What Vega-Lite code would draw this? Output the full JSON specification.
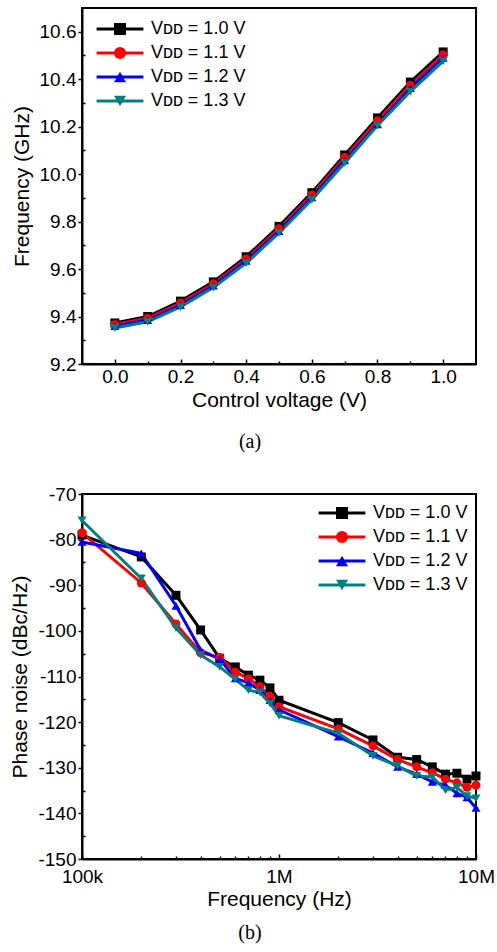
{
  "$schema": "https://vega.github.io/schema/vega-lite/v6.json",
  "background": "white",
  "padding": {"left": 8, "top": 7, "right": 0, "bottom": 5},
  "bounds": "flush",
  "spacing": 130,
  "config": {
    "view": {"stroke": "black", "strokeWidth": 2},
    "font": "Liberation Sans",
    "axis": {"domainColor": "black", "domainWidth": 2, "tickColor": "black", "tickWidth": 1.5, "labelColor": "black", "titleColor": "black", "labelFont": "Liberation Sans", "titleFont": "Liberation Sans", "labelFontSize": 19, "titleFontSize": 21, "titleFontWeight": "normal", "grid": false, "labelFlush": false},
    "legend": {"orient": "none", "padding": 0, "title": null, "labelFont": "Liberation Sans", "labelFontSize": 18, "labelColor": "black", "symbolSize": 144, "labelOffset": 22, "rowPadding": 6, "labelLimit": 300, "symbolOpacity": 1},
    "title": {"font": "Liberation Serif", "fontSize": 20, "fontWeight": "normal", "color": "black"},
    "point": {"filled": true, "opacity": 1, "size": 80}
  },
  "resolve": {"scale": {"stroke": "independent", "fill": "independent", "shape": "independent"}, "legend": {"stroke": "independent", "fill": "independent", "shape": "independent"}},
  "vconcat": [
    {
      "width": 394,
      "height": 356,
      "title": {"text": "(a)", "orient": "bottom", "offset": 22, "anchor": "middle", "frame": "group", "dx": -29},
      "data": {"values": [
        {"s": "1.0", "v": 0.0, "f": 9.373}, {"s": "1.0", "v": 0.1, "f": 9.400}, {"s": "1.0", "v": 0.2, "f": 9.465}, {"s": "1.0", "v": 0.3, "f": 9.546}, {"s": "1.0", "v": 0.4, "f": 9.652}, {"s": "1.0", "v": 0.5, "f": 9.780}, {"s": "1.0", "v": 0.6, "f": 9.922}, {"s": "1.0", "v": 0.7, "f": 10.081}, {"s": "1.0", "v": 0.8, "f": 10.237}, {"s": "1.0", "v": 0.9, "f": 10.388}, {"s": "1.0", "v": 1.0, "f": 10.515},
        {"s": "1.1", "v": 0.0, "f": 9.367}, {"s": "1.1", "v": 0.1, "f": 9.393}, {"s": "1.1", "v": 0.2, "f": 9.457}, {"s": "1.1", "v": 0.3, "f": 9.538}, {"s": "1.1", "v": 0.4, "f": 9.643}, {"s": "1.1", "v": 0.5, "f": 9.770}, {"s": "1.1", "v": 0.6, "f": 9.912}, {"s": "1.1", "v": 0.7, "f": 10.070}, {"s": "1.1", "v": 0.8, "f": 10.225}, {"s": "1.1", "v": 0.9, "f": 10.375}, {"s": "1.1", "v": 1.0, "f": 10.503},
        {"s": "1.2", "v": 0.0, "f": 9.360}, {"s": "1.2", "v": 0.1, "f": 9.385}, {"s": "1.2", "v": 0.2, "f": 9.448}, {"s": "1.2", "v": 0.3, "f": 9.530}, {"s": "1.2", "v": 0.4, "f": 9.635}, {"s": "1.2", "v": 0.5, "f": 9.760}, {"s": "1.2", "v": 0.6, "f": 9.902}, {"s": "1.2", "v": 0.7, "f": 10.058}, {"s": "1.2", "v": 0.8, "f": 10.210}, {"s": "1.2", "v": 0.9, "f": 10.362}, {"s": "1.2", "v": 1.0, "f": 10.490},
        {"s": "1.3", "v": 0.0, "f": 9.352}, {"s": "1.3", "v": 0.1, "f": 9.378}, {"s": "1.3", "v": 0.2, "f": 9.440}, {"s": "1.3", "v": 0.3, "f": 9.522}, {"s": "1.3", "v": 0.4, "f": 9.625}, {"s": "1.3", "v": 0.5, "f": 9.752}, {"s": "1.3", "v": 0.6, "f": 9.892}, {"s": "1.3", "v": 0.7, "f": 10.047}, {"s": "1.3", "v": 0.8, "f": 10.205}, {"s": "1.3", "v": 0.9, "f": 10.348}, {"s": "1.3", "v": 1.0, "f": 10.476}
      ]},
      "layer": [
        {
          "mark": {"type": "line", "strokeWidth": 3},
          "encoding": {
            "x": {"field": "v", "type": "quantitative", "scale": {"domain": [-0.1, 1.1], "nice": false, "zero": false}, "axis": {"values": [0, 0.2, 0.4, 0.6, 0.8, 1.0], "format": ".1f", "tickSize": -5, "labelPadding": 8, "title": "Control voltage (V)", "titlePadding": 3}},
            "y": {"field": "f", "type": "quantitative", "scale": {"domain": [9.2, 10.7], "nice": false, "zero": false}, "axis": {"values": [9.2, 9.4, 9.6, 9.8, 10.0, 10.2, 10.4, 10.6], "format": ".1f", "tickSize": 4, "labelPadding": 2, "title": "Frequency (GHz)", "titlePadding": 7}},
            "stroke": {"field": "s", "type": "nominal", "scale": {"range": ["#000000", "#ff0000", "#0000ff", "#008080"]},
              "legend": {"legendX": 29, "legendY": 12, "symbolType": "M-3.9,0L3.9,0", "symbolStrokeWidth": 3, "labelExpr": "'Vᴅᴅ = ' + datum.label + ' V'"}}
          }
        },
        {
          "mark": {"type": "point"},
          "encoding": {
            "x": {"field": "v", "type": "quantitative", "scale": {"domain": [-0.1, 1.1], "nice": false, "zero": false}, "axis": {"orient": "bottom", "values": [0.1, 0.3, 0.5, 0.7, 0.9], "labels": false, "domain": false, "tickSize": -3, "title": null}},
            "y": {"field": "f", "type": "quantitative", "scale": {"domain": [9.2, 10.7], "nice": false, "zero": false}, "axis": {"orient": "left", "values": [9.3, 9.5, 9.7, 9.9, 10.1, 10.3, 10.5], "labels": false, "domain": false, "tickSize": -3, "title": null}},
            "fill": {"field": "s", "type": "nominal", "scale": {"domain": ["1.0", "1.1", "1.2", "1.3"], "range": ["#000000", "#ff0000", "#0000ff", "#008080"]}, "legend": {"legendX": 29, "legendY": 12, "labelExpr": "''"}},
            "shape": {"field": "s", "type": "nominal", "scale": {"domain": ["1.0", "1.1", "1.2", "1.3"], "range": ["square", "circle", "triangle-up", "triangle-down"]}, "legend": {"legendX": 29, "legendY": 12, "labelExpr": "''"}}
          }
        }
      ],
      "resolve": {"axis": {"x": "independent", "y": "independent"}}
    },
    {
      "width": 394,
      "height": 365,
      "title": {"text": "(b)", "orient": "bottom", "offset": 14, "anchor": "middle", "frame": "group", "dx": -29},
      "data": {"values": [
        {"s": "1.0", "hz": 100000, "pn": -79.0}, {"s": "1.0", "hz": 200000, "pn": -83.8}, {"s": "1.0", "hz": 300000, "pn": -92.2}, {"s": "1.0", "hz": 400000, "pn": -99.8}, {"s": "1.0", "hz": 500000, "pn": -106.0}, {"s": "1.0", "hz": 600000, "pn": -107.9}, {"s": "1.0", "hz": 700000, "pn": -109.7}, {"s": "1.0", "hz": 800000, "pn": -110.8}, {"s": "1.0", "hz": 900000, "pn": -112.5}, {"s": "1.0", "hz": 1000000, "pn": -115.2}, {"s": "1.0", "hz": 2000000, "pn": -120.1}, {"s": "1.0", "hz": 3000000, "pn": -123.9}, {"s": "1.0", "hz": 4000000, "pn": -127.7}, {"s": "1.0", "hz": 5000000, "pn": -128.2}, {"s": "1.0", "hz": 6000000, "pn": -129.8}, {"s": "1.0", "hz": 7000000, "pn": -131.4}, {"s": "1.0", "hz": 8000000, "pn": -131.2}, {"s": "1.0", "hz": 9000000, "pn": -132.5}, {"s": "1.0", "hz": 10000000, "pn": -131.8},
        {"s": "1.1", "hz": 100000, "pn": -78.5}, {"s": "1.1", "hz": 200000, "pn": -89.5}, {"s": "1.1", "hz": 300000, "pn": -98.5}, {"s": "1.1", "hz": 400000, "pn": -104.8}, {"s": "1.1", "hz": 500000, "pn": -105.8}, {"s": "1.1", "hz": 600000, "pn": -109.0}, {"s": "1.1", "hz": 700000, "pn": -110.5}, {"s": "1.1", "hz": 800000, "pn": -112.2}, {"s": "1.1", "hz": 900000, "pn": -114.4}, {"s": "1.1", "hz": 1000000, "pn": -116.6}, {"s": "1.1", "hz": 2000000, "pn": -121.5}, {"s": "1.1", "hz": 3000000, "pn": -125.2}, {"s": "1.1", "hz": 4000000, "pn": -128.2}, {"s": "1.1", "hz": 5000000, "pn": -129.8}, {"s": "1.1", "hz": 6000000, "pn": -131.1}, {"s": "1.1", "hz": 7000000, "pn": -132.5}, {"s": "1.1", "hz": 8000000, "pn": -133.3}, {"s": "1.1", "hz": 9000000, "pn": -134.3}, {"s": "1.1", "hz": 10000000, "pn": -133.8},
        {"s": "1.2", "hz": 100000, "pn": -80.5}, {"s": "1.2", "hz": 200000, "pn": -83.0}, {"s": "1.2", "hz": 300000, "pn": -94.5}, {"s": "1.2", "hz": 400000, "pn": -104.2}, {"s": "1.2", "hz": 500000, "pn": -106.2}, {"s": "1.2", "hz": 600000, "pn": -110.4}, {"s": "1.2", "hz": 700000, "pn": -111.4}, {"s": "1.2", "hz": 800000, "pn": -113.0}, {"s": "1.2", "hz": 900000, "pn": -115.2}, {"s": "1.2", "hz": 1000000, "pn": -117.3}, {"s": "1.2", "hz": 2000000, "pn": -123.2}, {"s": "1.2", "hz": 3000000, "pn": -126.8}, {"s": "1.2", "hz": 4000000, "pn": -129.8}, {"s": "1.2", "hz": 5000000, "pn": -131.4}, {"s": "1.2", "hz": 6000000, "pn": -133.1}, {"s": "1.2", "hz": 7000000, "pn": -133.8}, {"s": "1.2", "hz": 8000000, "pn": -135.6}, {"s": "1.2", "hz": 9000000, "pn": -136.5}, {"s": "1.2", "hz": 10000000, "pn": -138.8},
        {"s": "1.3", "hz": 100000, "pn": -75.8}, {"s": "1.3", "hz": 200000, "pn": -88.5}, {"s": "1.3", "hz": 300000, "pn": -99.4}, {"s": "1.3", "hz": 400000, "pn": -105.3}, {"s": "1.3", "hz": 500000, "pn": -107.9}, {"s": "1.3", "hz": 600000, "pn": -110.6}, {"s": "1.3", "hz": 700000, "pn": -113.0}, {"s": "1.3", "hz": 800000, "pn": -113.5}, {"s": "1.3", "hz": 900000, "pn": -115.9}, {"s": "1.3", "hz": 1000000, "pn": -118.6}, {"s": "1.3", "hz": 2000000, "pn": -122.4}, {"s": "1.3", "hz": 3000000, "pn": -127.4}, {"s": "1.3", "hz": 4000000, "pn": -129.6}, {"s": "1.3", "hz": 5000000, "pn": -131.8}, {"s": "1.3", "hz": 6000000, "pn": -132.0}, {"s": "1.3", "hz": 7000000, "pn": -134.9}, {"s": "1.3", "hz": 8000000, "pn": -134.3}, {"s": "1.3", "hz": 9000000, "pn": -136.2}, {"s": "1.3", "hz": 10000000, "pn": -136.7}
      ]},
      "layer": [
        {
          "mark": {"type": "line", "strokeWidth": 3},
          "encoding": {
            "x": {"field": "hz", "type": "quantitative", "scale": {"type": "log", "domain": [100000, 10000000], "nice": false}, "axis": {"values": [100000, 1000000, 10000000], "labelExpr": "datum.value >= 1000000 ? (datum.value / 1000000) + 'M' : (datum.value / 1000) + 'k'", "tickSize": -5, "labelPadding": 13, "title": "Frequency (Hz)", "titlePadding": 2}},
            "y": {"field": "pn", "type": "quantitative", "scale": {"domain": [-150, -70], "nice": false, "zero": false}, "axis": {"values": [-150, -140, -130, -120, -110, -100, -90, -80, -70], "labelExpr": "'' + datum.value", "tickSize": 4, "labelPadding": 2, "title": "Phase noise (dBc/Hz)", "titlePadding": 7}},
            "stroke": {"field": "s", "type": "nominal", "scale": {"range": ["#000000", "#ff0000", "#0000ff", "#008080"]},
              "legend": {"legendX": 251, "legendY": 10, "symbolType": "M-3.9,0L3.9,0", "symbolStrokeWidth": 3, "labelExpr": "'Vᴅᴅ = ' + datum.label + ' V'"}}
          }
        },
        {
          "mark": {"type": "point"},
          "encoding": {
            "x": {"field": "hz", "type": "quantitative", "scale": {"type": "log", "domain": [100000, 10000000], "nice": false}, "axis": {"orient": "bottom", "values": [200000, 300000, 400000, 500000, 600000, 700000, 800000, 900000, 2000000, 3000000, 4000000, 5000000, 6000000, 7000000, 8000000, 9000000], "labels": false, "domain": false, "tickSize": -3, "title": null}},
            "y": {"field": "pn", "type": "quantitative", "scale": {"domain": [-150, -70], "nice": false, "zero": false}, "axis": {"orient": "left", "values": [-145, -135, -125, -115, -105, -95, -85, -75], "labels": false, "domain": false, "tickSize": -3, "title": null}},
            "fill": {"field": "s", "type": "nominal", "scale": {"domain": ["1.0", "1.1", "1.2", "1.3"], "range": ["#000000", "#ff0000", "#0000ff", "#008080"]}, "legend": {"legendX": 251, "legendY": 10, "labelExpr": "''"}},
            "shape": {"field": "s", "type": "nominal", "scale": {"domain": ["1.0", "1.1", "1.2", "1.3"], "range": ["square", "circle", "triangle-up", "triangle-down"]}, "legend": {"legendX": 251, "legendY": 10, "labelExpr": "''"}}
          }
        }
      ],
      "resolve": {"axis": {"x": "independent", "y": "independent"}}
    }
  ]
}
